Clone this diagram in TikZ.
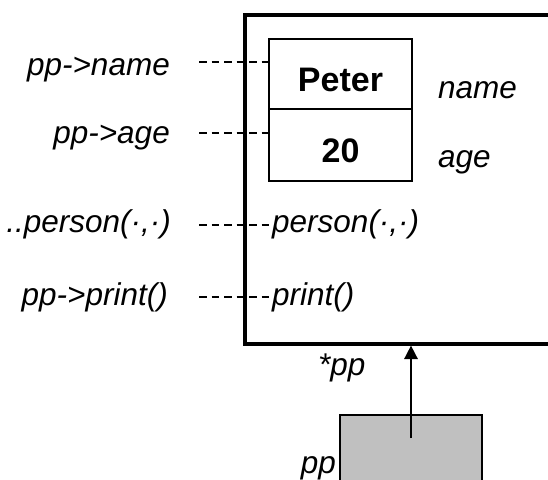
\documentclass[tikz,border=0pt]{standalone}
\usepackage{fontspec}
\setmainfont{Liberation Sans}
\usetikzlibrary{arrows.meta}
\begin{document}
\begin{tikzpicture}[x=1pt,y=-1pt,
  lbl/.style={inner sep=0pt,font=\fontsize{31.5}{36}\selectfont\itshape},
  val/.style={inner sep=0pt,font=\fontsize{34}{40}\selectfont\bfseries},
  cell/.style={draw,line width=1.3pt,minimum width=143pt,inner sep=0pt},
  dashline/.style={line width=1.1pt,dash pattern=on 7.5pt off 5pt},
  ptrarrow/.style={line width=1.6pt,-{Triangle[width=13.5pt,length=13.5pt]}}]
\useasboundingbox (0,0) rectangle (548,479);
\clip (0,0) rectangle (548,479);
% object box
\node (obj) [draw,line width=3.2pt,minimum width=320pt,minimum height=329pt,inner sep=0pt] at (405,179.5) {};
% cells
\node (cellname) [cell,minimum height=70pt] at (340.5,74) {};
\node (cellage) [cell,minimum height=72pt] at (340.5,145) {};
\node (peter) [val,anchor=base] at (340.5,91) {Peter};
\node (twenty) [val,anchor=base] at (340.5,162) {20};
\node (fname) [lbl,anchor=base west] at (438,98) {name};
\node (fage) [lbl,anchor=base west] at (438,167) {age};
% member functions
\node (mperson) [lbl,anchor=base west] at (272,232) {person(·,·)};
\node (mprint) [lbl,anchor=base west] at (272,305) {print()};
% left labels
\node (lname) [lbl,anchor=base east] at (170,75) {pp->name};
\node (lage) [lbl,anchor=base east] at (170,143) {pp->age};
\node (lperson) [lbl,anchor=base east] at (171,232) {..person(·,·)};
\node (lprint) [lbl,anchor=base east] at (168,305) {pp->print()};
% dashed connectors
\coordinate (dn) at (199,62);
\coordinate (da) at (199,133);
\coordinate (dp) at (199,225);
\coordinate (dr) at (199,297);
\draw[dashline] (dn) -- (dn -| cellname.west);
\draw[dashline] (da) -- (da -| cellage.west);
\draw[dashline] (dp) -- (dp -| mperson.west);
\draw[dashline] (dr) -- (dr -| mprint.west);
% pointer
\node (ptr) [draw,line width=1.3pt,fill={rgb,255:red,192;green,192;blue,192},minimum width=142pt,minimum height=80pt,inner sep=0pt] at (411,455) {};
\node (ptrname) [lbl,anchor=base east] at (336,473) {pp};
\node (deref) [lbl,anchor=base west] at (318,375) {*pp};
\coordinate (tail) at (411,438);
\draw[ptrarrow] (tail) -- (tail |- obj.south);
\end{tikzpicture}
\end{document}
